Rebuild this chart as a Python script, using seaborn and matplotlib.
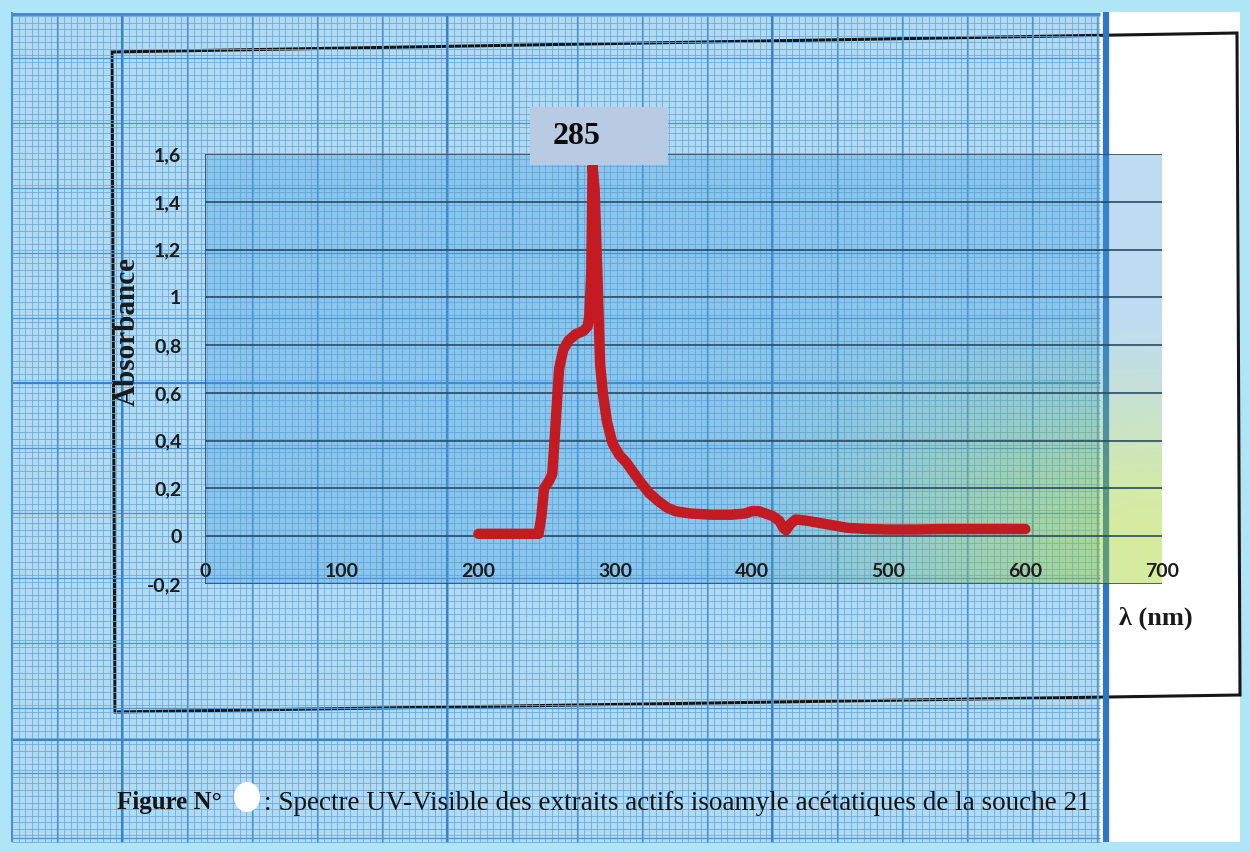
import numpy as np
import matplotlib
matplotlib.use("Agg")
import matplotlib.pyplot as plt
import seaborn as sns
from matplotlib.patches import Rectangle, Polygon, Ellipse

sns.set_style("white")
plt.rcParams['font.family'] = ['Lato', 'DejaVu Sans']

# spectrum (nm, absorbance)
wavelength = [200, 244, 246, 248, 252, 254, 256, 259, 262, 266, 271, 277, 280, 281,
              282.5, 283.5, 285, 287, 289, 291, 294, 298, 303, 308, 313, 318, 325,
              332, 338, 344, 355, 371, 385, 395, 400, 405, 410, 415, 420, 423, 425,
              428, 432, 440, 450, 460, 470, 485, 500, 520, 540, 560, 580, 600]
absorbance = [0.01, 0.01, 0.08, 0.20, 0.235, 0.26, 0.43, 0.70, 0.78, 0.82, 0.845, 0.86,
              0.88, 0.92, 1.10, 1.55, 1.45, 1.10, 0.72, 0.60, 0.48, 0.39, 0.34,
              0.31, 0.27, 0.23, 0.18, 0.145, 0.12, 0.105, 0.095, 0.09, 0.09, 0.095,
              0.105, 0.105, 0.095, 0.085, 0.065, 0.035, 0.025, 0.05, 0.07, 0.065,
              0.055, 0.045, 0.035, 0.03, 0.028, 0.028, 0.03, 0.03, 0.03, 0.03]

x_ticks = [0, 100, 200, 300, 400, 500, 600, 700]
y_ticks = [-0.2, 0, 0.2, 0.4, 0.6, 0.8, 1, 1.2, 1.4, 1.6]
y_tick_labels = ["-0,2", "0", "0,2", "0,4", "0,6", "0,8", "1", "1,2", "1,4", "1,6"]
peak_label = "285"
y_title = "Absorbance"
x_title = "λ (nm)"
caption_head = "Figure N°"
caption_rest = ": Spectre UV-Visible des extraits actifs isoamyle acétatiques de la souche 21"

W, H = 1250, 852
fig = plt.figure(figsize=(12.5, 8.52), dpi=100)
fig.patch.set_facecolor('#aee5f7')

# ---- graph paper background (pixel coordinates) ----
bg = fig.add_axes([0, 0, 1, 1])
bg.set_xlim(0, W)
bg.set_ylim(H, 0)
bg.axis('off')
bg.add_patch(Rectangle((12, 16), 1088, 826, facecolor='#b2dbf3', edgecolor='none'))
fine_x = np.arange(12, 1100, 6.5)
fine_y = np.arange(16, 842, 6.5)
bg.vlines(fine_x, 16, 842, colors='#68a9d9', linewidth=0.55)
bg.hlines(fine_y, 12, 1100, colors='#68a9d9', linewidth=0.55)
bg.vlines(np.arange(57, 1100, 65), 16, 842, colors='#4f93c9', linewidth=0.9)
bg.hlines(np.arange(58, 842, 65), 12, 1100, colors='#4f93c9', linewidth=0.9)
bg.vlines([122, 447, 772], 16, 842, colors='#3b83c6', linewidth=1.5)
bg.hlines([383, 740], 12, 1100, colors='#3b83c6', linewidth=1.5)
bg.add_patch(Rectangle((1100, 12), 140, 830, facecolor='white', edgecolor='none'))
bg.vlines([1106], 12, 842, colors='#2f77c2', linewidth=4.5)
bg.vlines([12], 12, 842, colors='#4a8fd0', linewidth=1.5)
bg.hlines([14], 12, 1100, colors='#3f85c8', linewidth=2)
bg.add_patch(Polygon([(112, 52), (1237, 33), (1240, 695), (115, 712)], closed=True,
                     fill=False, edgecolor='#161616', linewidth=2.2))

# ---- chart ----
left, right, top, bottom = 205, 1162, 154, 584
ax = fig.add_axes([left / W, 1 - bottom / H, (right - left) / W, (bottom - top) / H])
ax.set_facecolor('none')
ax.set_xlim(0, 700)
ax.set_ylim(-0.2, 1.6)

# plot-area tint: blue at top-left, green towards bottom-right
u = np.linspace(0, 1, 200)[None, :]
v = np.linspace(0, 1, 200)[:, None]
def smooth(t):
    t = np.clip(t, 0, 1)
    return t * t * (3 - 2 * t)
g = smooth((u - 0.5) / 0.5) * smooth((0.7 - v) / 0.6)
blue = np.array([0.28, 0.62, 0.87])
green = np.array([0.62, 0.82, 0.10])
img = np.zeros((200, 200, 4))
img[..., :3] = blue * (1 - g[..., None]) + green * g[..., None]
img[..., 3] = 0.36 * (1 - g) + 0.42 * g
ax.imshow(img, extent=[0, 700, -0.2, 1.6], origin='lower', aspect='auto', zorder=0)

for yv in y_ticks:
    ax.axhline(yv, color='#2b4a63', linewidth=1.2, zorder=1)
ax.axvline(0, color='#2b4a63', linewidth=1.2, zorder=1)
for s in ax.spines.values():
    s.set_visible(False)

sns.lineplot(x=wavelength, y=absorbance, ax=ax, color='#c41a22', linewidth=7.5,
             estimator=None, zorder=3, solid_capstyle='round', solid_joinstyle='round')

ax.spines['bottom'].set_position(('data', 0))
ax.set_yticks(y_ticks)
ax.set_yticklabels(y_tick_labels, fontweight='bold', fontsize=14, color='#1c1c1c')
ax.set_xticks(x_ticks)
ax.set_xticklabels([str(t) for t in x_ticks], fontweight='bold', fontsize=14,
                   color='#1c1c1c')
ax.tick_params(axis='y', length=0, pad=17)
ax.tick_params(axis='x', length=0, pad=19)
ax.grid(False)

# ---- overlay texts ----
fg = fig.add_axes([0, 0, 1, 1])
fg.set_xlim(0, W)
fg.set_ylim(H, 0)
fg.axis('off')
fg.patch.set_alpha(0)
fg.add_patch(Rectangle((530, 107), 138, 58, facecolor='#b8cbe3', edgecolor='none'))
fg.text(553, 137, peak_label, fontsize=23, fontweight='bold', family='Liberation Serif',
        va='center', ha='left', color='#0a0a0a')
fg.text(127, 332, y_title, fontsize=21, fontweight='bold', family='Liberation Serif',
        rotation=90, va='center', ha='center', color='#1a1a1a')
fg.text(1119, 618, x_title, fontsize=19, fontweight='bold', family='Liberation Serif',
        va='center', ha='left', color='#1a1a1a')
fg.text(117, 803, caption_head, fontsize=18, fontweight='bold', family='Liberation Serif',
        va='center', ha='left', color='#151515')
fg.add_patch(Ellipse((247, 797), 26, 30, facecolor='white', edgecolor='none'))
fg.text(264, 803, caption_rest, fontsize=19.5, family='Liberation Serif',
        va='center', ha='left', color='#151515')

fig.savefig('out.png', dpi=100)
